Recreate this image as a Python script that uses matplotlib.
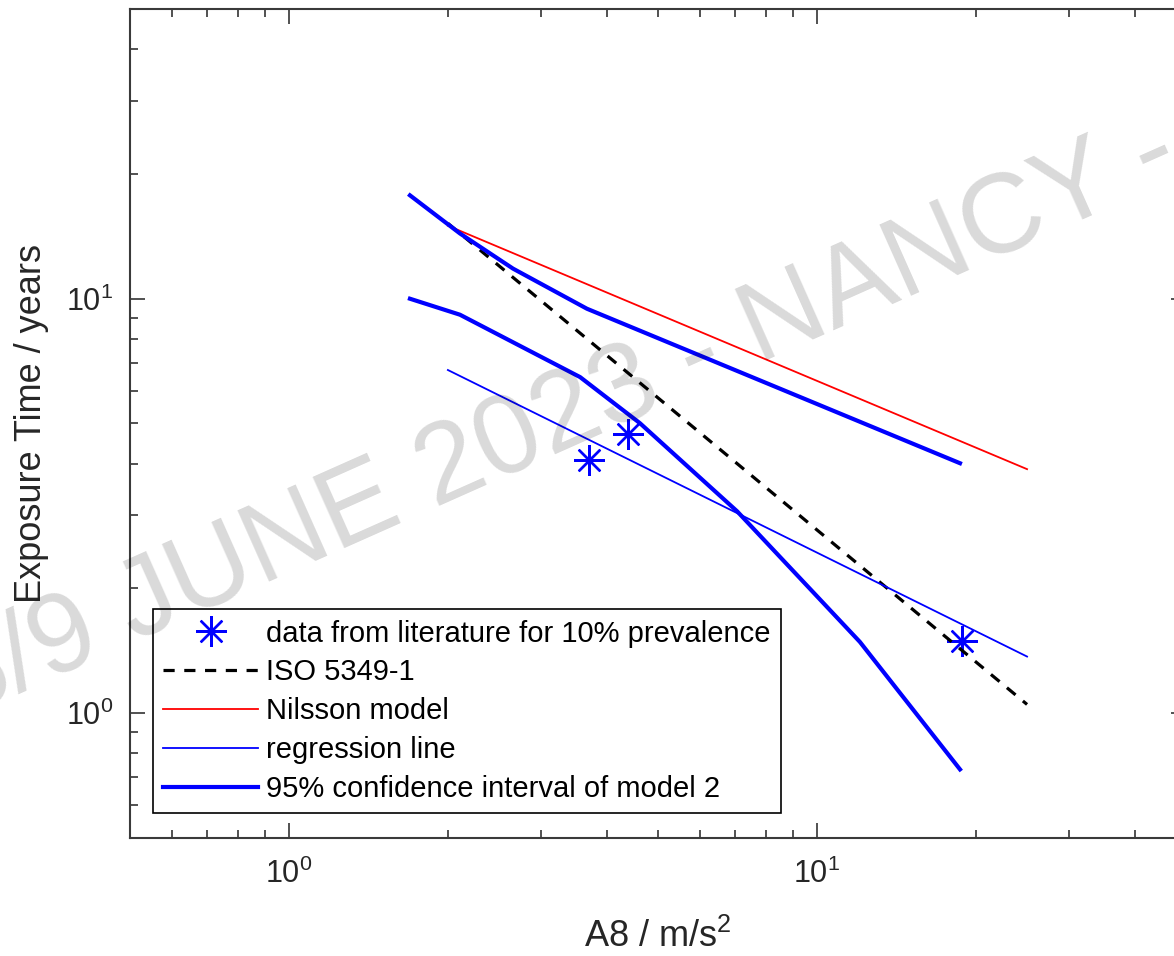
import matplotlib
matplotlib.use("Agg")
import matplotlib.pyplot as plt
from matplotlib.ticker import NullFormatter

plt.rcParams['font.family'] = ['Liberation Sans', 'DejaVu Sans']
plt.rcParams['mathtext.fontset'] = 'custom'
plt.rcParams['mathtext.rm'] = 'Liberation Sans'
plt.rcParams['mathtext.it'] = 'Liberation Sans:italic'
plt.rcParams['mathtext.bf'] = 'Liberation Sans:bold'

# values (A8 in m/s^2, exposure time in years)
lit_a8 = [3.70, 4.385, 18.82]
lit_years = [4.08, 4.71, 1.494]

iso_a8 = [2.0, 25.0]
iso_years = [15.2, 1.05]

nilsson_a8 = [2.0, 25.0]
nilsson_years = [15.0, 3.88]

reg_a8 = [2.0, 25.0]
reg_years = [6.73, 1.37]

ci_hi_a8 = [1.695, 2.108, 2.657, 3.667, 18.66]
ci_hi_years = [17.76, 14.37, 11.82, 9.46, 4.01]

ci_lo_a8 = [1.695, 2.108, 3.56, 4.62, 7.06, 12.06, 18.66]
ci_lo_years = [10.0, 9.15, 6.47, 5.01, 3.07, 1.486, 0.732]

W, H = 1174, 956
fig = plt.figure(figsize=(W / 100, H / 100), dpi=100)
# axes run past the right edge of the picture, as in the reference crop
ax = fig.add_axes([130 / W, (H - 838) / H, (1186 - 130) / W, (838 - 9) / H])

ax.plot(lit_a8, lit_years, linestyle='none', marker=(8, 2, 0), markersize=22,
        markeredgewidth=1.7, color='#0000ff',
        label='data from literature for 10% prevalence')
ax.plot(iso_a8, iso_years, color='black', linestyle=(0, (3.5, 3)), linewidth=2.3,
        label='ISO 5349-1')
ax.plot(nilsson_a8, nilsson_years, color='#ff0000', linewidth=1.3,
        label='Nilsson model')
ax.plot(reg_a8, reg_years, color='#0000ff', linewidth=1.3,
        label='regression line')
ax.plot(ci_hi_a8, ci_hi_years, color='#0000ff', linewidth=3.0,
        label='95% confidence interval of model 2')
ax.plot(ci_lo_a8, ci_lo_years, color='#0000ff', linewidth=3.0)

ax.set_xscale('log')
ax.set_yscale('log')
ax.set_xlim(0.5, 50)
ax.set_ylim(0.5, 50)
ax.xaxis.set_minor_formatter(NullFormatter())
ax.yaxis.set_minor_formatter(NullFormatter())

ax.tick_params(which='both', direction='in', top=True, right=True,
               colors='#333333', width=1.2, labelcolor='#262626')
ax.tick_params(which='major', length=11, labelsize=22)
ax.tick_params(which='minor', length=6)
ax.tick_params(axis='x', which='major', pad=15)
ax.tick_params(axis='y', which='major', pad=12)
for s in ax.spines.values():
    s.set_linewidth(1.5)
    s.set_color('#3a3a3a')

ax.set_xlabel('A8 / m/s$^2$', fontsize=26, color='#262626')
ax.set_ylabel('Exposure Time / years', fontsize=26, color='#262626')
ax.xaxis.set_label_coords(0.5, -0.097)
ax.yaxis.set_label_coords(-0.077, 0.5)

leg = ax.legend(loc='lower left', bbox_to_anchor=(0.0218, 0.0302),
                borderaxespad=0, fontsize=21, handlelength=3.25,
                handletextpad=0.27, borderpad=0.35, labelspacing=0.37,
                fancybox=False, framealpha=1, edgecolor='black')
leg.get_frame().set_linewidth(1.2)

# conference watermark laid over the plot
fig.text(560 / W, 1 - 420 / H, '5/9 JUNE 2023 - NANCY -', rotation=24,
         rotation_mode='anchor', ha='center', va='center', fontsize=82,
         color='black', alpha=0.15, zorder=10)

fig.savefig('out.png', dpi=100)
